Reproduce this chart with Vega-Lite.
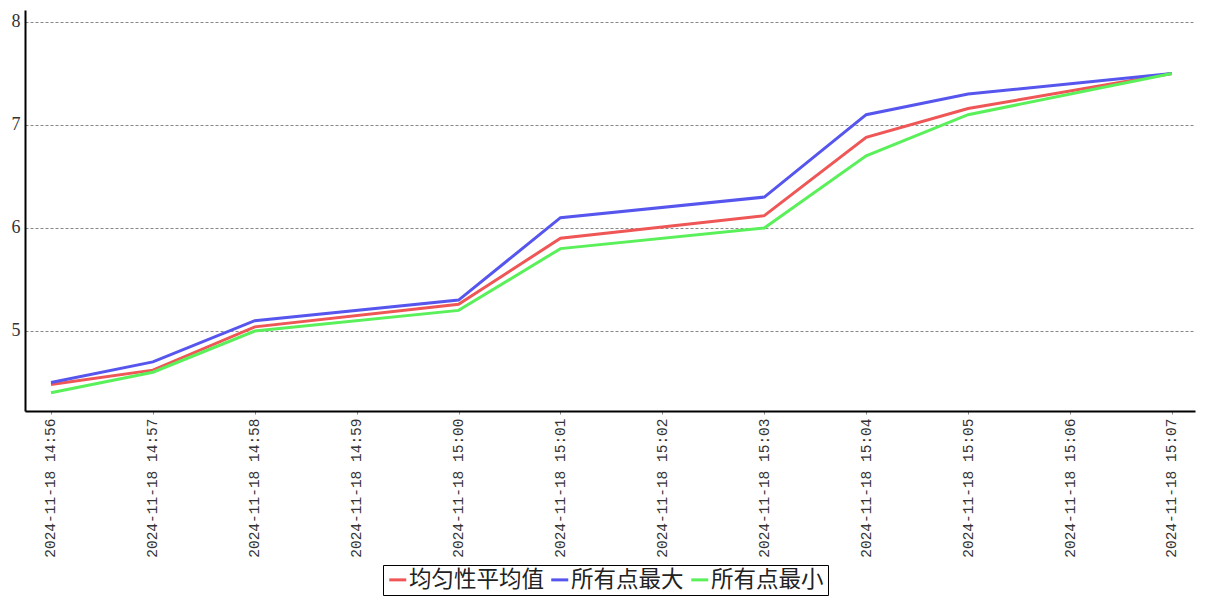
{
  "$schema": "https://vega.github.io/schema/vega-lite/v6.json",
  "width": 1170,
  "height": 401,
  "autosize": "none",
  "padding": {"left": 25, "top": 10, "right": 12, "bottom": 189},
  "background": "white",
  "config": {"view": {"stroke": null}},
  "data": {
    "format": {"parse": {"time": "utc:'%Y-%m-%d %H:%M'"}},
    "values": [
      {"time": "2024-11-18 14:56", "series": "均匀性平均值", "value": 4.48},
      {"time": "2024-11-18 14:57", "series": "均匀性平均值", "value": 4.62},
      {"time": "2024-11-18 14:58", "series": "均匀性平均值", "value": 5.04},
      {"time": "2024-11-18 15:00", "series": "均匀性平均值", "value": 5.26},
      {"time": "2024-11-18 15:01", "series": "均匀性平均值", "value": 5.9},
      {"time": "2024-11-18 15:03", "series": "均匀性平均值", "value": 6.12},
      {"time": "2024-11-18 15:04", "series": "均匀性平均值", "value": 6.88},
      {"time": "2024-11-18 15:05", "series": "均匀性平均值", "value": 7.16},
      {"time": "2024-11-18 15:07", "series": "均匀性平均值", "value": 7.5},
      {"time": "2024-11-18 14:56", "series": "所有点最大", "value": 4.5},
      {"time": "2024-11-18 14:57", "series": "所有点最大", "value": 4.7},
      {"time": "2024-11-18 14:58", "series": "所有点最大", "value": 5.1},
      {"time": "2024-11-18 15:00", "series": "所有点最大", "value": 5.3},
      {"time": "2024-11-18 15:01", "series": "所有点最大", "value": 6.1},
      {"time": "2024-11-18 15:03", "series": "所有点最大", "value": 6.3},
      {"time": "2024-11-18 15:04", "series": "所有点最大", "value": 7.1},
      {"time": "2024-11-18 15:05", "series": "所有点最大", "value": 7.3},
      {"time": "2024-11-18 15:07", "series": "所有点最大", "value": 7.5},
      {"time": "2024-11-18 14:56", "series": "所有点最小", "value": 4.4},
      {"time": "2024-11-18 14:57", "series": "所有点最小", "value": 4.6},
      {"time": "2024-11-18 14:58", "series": "所有点最小", "value": 5.0},
      {"time": "2024-11-18 15:00", "series": "所有点最小", "value": 5.2},
      {"time": "2024-11-18 15:01", "series": "所有点最小", "value": 5.8},
      {"time": "2024-11-18 15:03", "series": "所有点最小", "value": 6.0},
      {"time": "2024-11-18 15:04", "series": "所有点最小", "value": 6.7},
      {"time": "2024-11-18 15:05", "series": "所有点最小", "value": 7.1},
      {"time": "2024-11-18 15:07", "series": "所有点最小", "value": 7.5}
    ]
  },
  "mark": {"type": "line", "strokeWidth": 3},
  "encoding": {
    "x": {
      "field": "time",
      "type": "temporal",
      "scale": {
        "type": "utc",
        "domain": [1731941744700, 1731942433600],
        "nice": false
      },
      "axis": {
        "title": null,
        "grid": false,
        "tickCount": 12,
        "format": "%Y-%m-%d %H:%M",
        "labelAngle": -90,
        "labelAlign": "right",
        "labelBaseline": "middle",
        "labelFont": "Liberation Mono",
        "labelFontSize": 14.5,
        "labelColor": "#333333",
        "labelPadding": 4,
        "labelOverlap": false,
        "domainColor": "#000000",
        "domainWidth": 2,
        "tickColor": "#888888",
        "tickSize": 3,
        "tickWidth": 1
      }
    },
    "y": {
      "field": "value",
      "type": "quantitative",
      "scale": {"domain": [4.2233, 8.1165], "nice": false, "zero": false},
      "axis": {
        "title": null,
        "values": [5, 6, 7, 8],
        "grid": true,
        "gridColor": "#888888",
        "gridDash": [3, 2],
        "gridWidth": 1,
        "ticks": false,
        "labelFont": "Liberation Serif",
        "labelFontSize": 18,
        "labelColor": "#333333",
        "labelPadding": 5,
        "domainColor": "#000000",
        "domainWidth": 2
      }
    },
    "color": {
      "field": "series",
      "type": "nominal",
      "scale": {
        "domain": ["均匀性平均值", "所有点最大", "所有点最小"],
        "range": ["#ef5656", "#5656ef", "#5af05a"]
      },
      "legend": {
        "title": null,
        "orient": "none",
        "legendX": 358,
        "legendY": 555,
        "direction": "horizontal",
        "symbolType": "stroke",
        "symbolSize": 289,
        "symbolStrokeWidth": 3,
        "labelFont": "Noto Sans CJK SC",
        "labelFontSize": 22.5,
        "labelColor": "#222222",
        "labelOffset": 0,
        "columnPadding": 0,
        "padding": 3.5,
        "strokeColor": "#000000"
      }
    }
  }
}
